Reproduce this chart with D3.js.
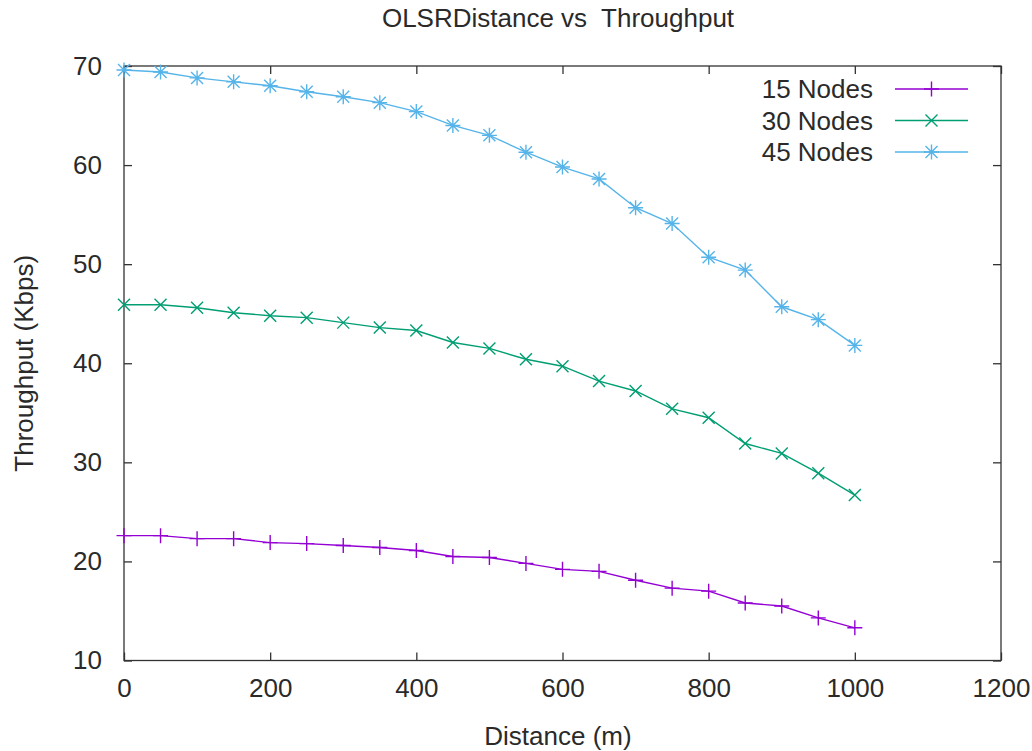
<!DOCTYPE html>
<html>
<head>
<meta charset="utf-8">
<script src="https://cdn.jsdelivr.net/npm/d3@7"></script>
<style>
  html, body { margin: 0; padding: 0; background: #fff; }
  svg text { font-family: "Liberation Sans", Arial, sans-serif; fill: #2a2a2a; }
</style>
</head>
<body>
<svg id="chart" width="1032" height="751"></svg>
<script>
// Distance (m) sampled every 50 m
const distances = [0, 50, 100, 150, 200, 250, 300, 350, 400, 450, 500,
                   550, 600, 650, 700, 750, 800, 850, 900, 950, 1000];

// Throughput (Kbps) per node count
const nodes15 = [22.6, 22.6, 22.3, 22.3, 21.9, 21.8, 21.6, 21.4, 21.1, 20.5, 20.4,
                 19.8, 19.2, 19.0, 18.1, 17.3, 17.0, 15.8, 15.5, 14.3, 13.3];
const nodes30 = [45.9, 45.9, 45.6, 45.1, 44.8, 44.6, 44.1, 43.6, 43.3, 42.1, 41.5,
                 40.4, 39.7, 38.2, 37.2, 35.4, 34.5, 31.9, 30.9, 28.9, 26.7];
const nodes45 = [69.6, 69.4, 68.8, 68.4, 68.0, 67.4, 66.9, 66.3, 65.4, 64.0, 63.0,
                 61.3, 59.8, 58.6, 55.7, 54.1, 50.7, 49.4, 45.7, 44.4, 41.8];

const seriesNames = ["15 Nodes", "30 Nodes", "45 Nodes"];
const seriesColors = ["#9400d3", "#009e73", "#56b4e9"];
const seriesMarkers = ["plus", "cross", "star"];

const xTicks = [0, 200, 400, 600, 800, 1000, 1200];
const yTicks = [10, 20, 30, 40, 50, 60, 70];

const titleText = "OLSRDistance vs  Throughput";
const xLabel = "Distance (m)";
const yLabel = "Throughput (Kbps)";

const series = [nodes15, nodes30, nodes45].map((vals, i) => ({
  name: seriesNames[i],
  color: seriesColors[i],
  marker: seriesMarkers[i],
  points: distances.map((d, j) => ({ x: d, y: vals[j] }))
}));

const svg = d3.select("#chart");
const plot = { left: 124, right: 1001, top: 66, bottom: 660.5 };

const x = d3.scaleLinear().domain([0, 1200]).range([plot.left, plot.right]);
const y = d3.scaleLinear().domain([10, 70]).range([plot.bottom, plot.top]);

const frameColor = "#333";
const tickLen = 8;

// axes with inward ticks, mirrored on the opposite sides
const axisFont = "26px";
const gx = svg.append("g").attr("transform", `translate(0,${plot.bottom})`)
  .call(d3.axisBottom(x).tickValues(xTicks).tickSize(-tickLen).tickPadding(18).tickFormat(d3.format("d")));
const gxTop = svg.append("g").attr("transform", `translate(0,${plot.top})`)
  .call(d3.axisTop(x).tickValues(xTicks).tickSize(-tickLen).tickFormat(""));
const gy = svg.append("g").attr("transform", `translate(${plot.left},0)`)
  .call(d3.axisLeft(y).tickValues(yTicks).tickSize(-tickLen).tickPadding(22).tickFormat(d3.format("d")));
const gyRight = svg.append("g").attr("transform", `translate(${plot.right},0)`)
  .call(d3.axisRight(y).tickValues(yTicks).tickSize(-tickLen).tickFormat(""));

[gx, gxTop, gy, gyRight].forEach(g => {
  g.select(".domain").remove();
  g.selectAll(".tick line").attr("stroke", frameColor).attr("stroke-width", 1.3);
  g.selectAll(".tick text").style("font-size", axisFont).attr("fill", "#2a2a2a");
});

// plot frame
svg.append("rect")
  .attr("x", plot.left).attr("y", plot.top)
  .attr("width", plot.right - plot.left).attr("height", plot.bottom - plot.top)
  .attr("fill", "none").attr("stroke", frameColor).attr("stroke-width", 1.3);

// marker glyph paths centred on 0,0
function markerPath(type, r) {
  const p = d3.path();
  if (type === "plus" || type === "star") {
    p.moveTo(-r, 0); p.lineTo(r, 0);
    p.moveTo(0, -r); p.lineTo(0, r);
  }
  if (type === "cross" || type === "star") {
    const k = r * 0.8;
    p.moveTo(-k, -k); p.lineTo(k, k);
    p.moveTo(-k, k); p.lineTo(k, -k);
  }
  return p.toString();
}
const markerSize = { plus: 7.5, cross: 7.5, star: 7.5 };

const line = d3.line().x(d => x(d.x)).y(d => y(d.y));

series.forEach(s => {
  const g = svg.append("g");
  g.append("path")
    .datum(s.points)
    .attr("d", line)
    .attr("fill", "none")
    .attr("stroke", s.color)
    .attr("stroke-width", 1.4);
  g.selectAll("path.mk")
    .data(s.points)
    .join("path")
    .attr("class", "mk")
    .attr("transform", d => `translate(${x(d.x)},${y(d.y)})`)
    .attr("d", markerPath(s.marker, markerSize[s.marker]))
    .attr("stroke", s.color)
    .attr("stroke-width", 1.4)
    .attr("fill", "none");
});

// legend, top right inside the frame
const legendTextRight = 873, legendLineX0 = 895, legendLineX1 = 968;
series.forEach((s, i) => {
  const ly = 89 + i * 31.5;
  svg.append("text")
    .attr("x", legendTextRight).attr("y", ly)
    .attr("dy", "0.35em")
    .attr("text-anchor", "end")
    .style("font-size", axisFont)
    .text(s.name);
  svg.append("line")
    .attr("x1", legendLineX0).attr("x2", legendLineX1)
    .attr("y1", ly).attr("y2", ly)
    .attr("stroke", s.color).attr("stroke-width", 1.4);
  svg.append("path")
    .attr("transform", `translate(${(legendLineX0 + legendLineX1) / 2},${ly})`)
    .attr("d", markerPath(s.marker, markerSize[s.marker]))
    .attr("stroke", s.color).attr("stroke-width", 1.4).attr("fill", "none");
});

// title and axis labels
svg.append("text")
  .attr("x", 558).attr("y", 27)
  .attr("text-anchor", "middle")
  .style("font-size", "26px")
  .style("white-space", "pre")
  .attr("xml:space", "preserve")
  .text(titleText);

svg.append("text")
  .attr("x", 558).attr("y", 745)
  .attr("text-anchor", "middle")
  .style("font-size", axisFont)
  .text(xLabel);

svg.append("text")
  .attr("transform", `translate(33,${(plot.top + plot.bottom) / 2}) rotate(-90)`)
  .attr("text-anchor", "middle")
  .style("font-size", axisFont)
  .text(yLabel);
</script>
</body>
</html>
